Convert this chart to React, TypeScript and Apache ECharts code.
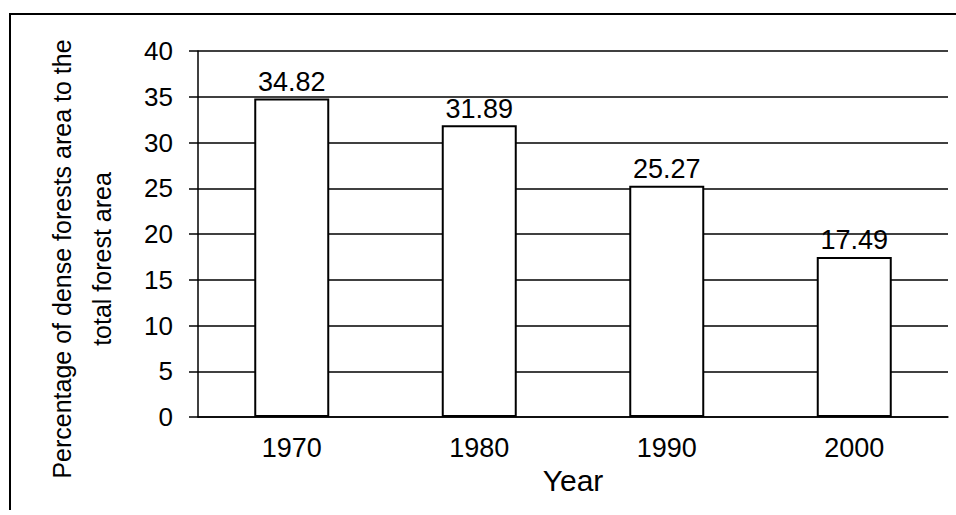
import React, { useEffect, useRef } from "react";
import * as echarts from "echarts";

const categories = ["1970", "1980", "1990", "2000"];
const values = [34.82, 31.89, 25.27, 17.49];
const yTicks = { min: 0, max: 40, interval: 5 };
const yNameLines = ["Percentage of dense forests area to the", "total forest area"];
const xName = "Year";

const FONT = "'Liberation Sans', Arial, sans-serif";

export default function App() {
  const ref = useRef<HTMLDivElement>(null);
  useEffect(() => {
    if (!ref.current) return;
    const chart = echarts.init(ref.current, null, { renderer: "svg" });
    chart.setOption({
      animation: false,
      backgroundColor: "#ffffff",
      grid: { left: 198, right: 8, top: 51, bottom: 98, containLabel: false },
      xAxis: {
        type: "category",
        data: categories,
        name: xName,
        nameLocation: "middle",
        nameGap: 46,
        nameTextStyle: { fontFamily: FONT, fontSize: 30, color: "#000" },
        axisLine: { show: true, lineStyle: { color: "#000", width: 1.5 } },
        axisTick: { show: false },
        axisLabel: { fontFamily: FONT, fontSize: 27, color: "#000", margin: 17 },
      },
      yAxis: {
        type: "value",
        min: yTicks.min,
        max: yTicks.max,
        interval: yTicks.interval,
        axisLine: { show: true, lineStyle: { color: "#000", width: 1.5 } },
        axisTick: { show: true, inside: false, length: 9, lineStyle: { color: "#000", width: 1.5 } },
        axisLabel: { fontFamily: FONT, fontSize: 26, color: "#000", margin: 25 },
        splitLine: { show: true, lineStyle: { color: "#000", width: 1.5 } },
      },
      series: [
        {
          type: "bar",
          data: values,
          barWidth: "40%",
          itemStyle: { color: "#ffffff", borderColor: "#000", borderWidth: 2 },
          label: {
            show: true,
            position: "top",
            distance: 3,
            fontFamily: FONT,
            fontSize: 27,
            color: "#000",
            formatter: (p: any) => p.value.toFixed(2),
          },
        },
      ],
      graphic: [
        {
          type: "polyline",
          shape: { points: [[10, 510], [10, 14], [956, 14]] },
          style: { stroke: "#000", lineWidth: 2, fill: "none" },
          silent: true,
        },
        {
          type: "text",
          x: 82,
          y: 259,
          rotation: Math.PI / 2,
          style: {
            text: yNameLines.join("\n"),
            fontFamily: FONT,
            fontSize: 25,
            lineHeight: 40,
            fill: "#000",
            align: "center",
            verticalAlign: "middle",
          },
        },
      ],
    });
    return () => chart.dispose();
  }, []);
  return (
    <div
      ref={ref}
      style={{ position: "absolute", left: 0, top: 0, width: 956, height: 515 }}
    />
  );
}
